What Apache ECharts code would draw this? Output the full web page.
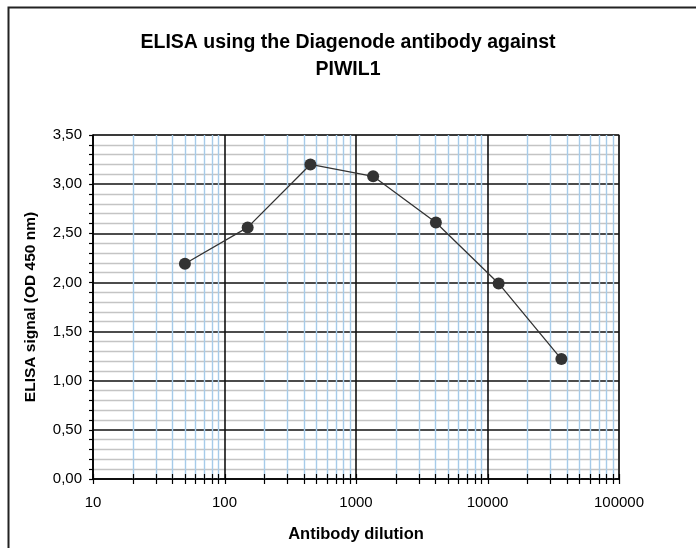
<!DOCTYPE html>
<html>
<head>
<meta charset="utf-8">
<style>
  html, body { margin: 0; padding: 0; background: #fff; }
  #chart { width: 696px; height: 548px; }
</style>
<script src="https://cdn.jsdelivr.net/npm/echarts@6/dist/echarts.min.js"></script>
</head>
<body>
<div id="chart"></div>
<script>
// antibody dilution (1:x) and ELISA signal OD 450 nm
const dilutions = [50, 150, 450, 1350, 4050, 12150, 36450];
const signal = [2.19, 2.56, 3.20, 3.08, 2.61, 1.99, 1.22];

// log axis tick marks
const xMajorTicks = [10, 100, 1000, 10000, 100000];
const xMinorTicks = [
  20, 30, 40, 50, 60, 70, 80, 90,
  200, 300, 400, 500, 600, 700, 800, 900,
  2000, 3000, 4000, 5000, 6000, 7000, 8000, 9000,
  20000, 30000, 40000, 50000, 60000, 70000, 80000, 90000
];
const yTicks = [0, 0.5, 1, 1.5, 2, 2.5, 3, 3.5];

const font = 'Liberation Sans, Arial, sans-serif';
const yMin = yTicks[0];
const yMax = yTicks[yTicks.length - 1];

// vertical line at a given x value, from the axis scales
function vLine(color, width, extendUp, extendDown, full) {
  return function(params, api) {
    const v = api.value(0);
    const top = api.coord([v, yMax]);
    const bottom = api.coord([v, yMin]);
    const x = Math.round(top[0]) + 0.5;
    return {
      type: 'line',
      shape: {
        x1: x, y1: full ? top[1] : bottom[1] - extendUp,
        x2: x, y2: bottom[1] + extendDown
      },
      style: { stroke: color, lineWidth: width }
    };
  };
}

let myChart = echarts.init(document.getElementById('chart'));
let option = {
  backgroundColor: '#fff',
  animation: false,
  title: {
    text: 'ELISA using the Diagenode antibody against\nPIWIL1',
    left: 'center',
    top: 24,
    textStyle: {
      fontFamily: font,
      fontSize: 19.5,
      fontWeight: 'bold',
      color: '#000',
      lineHeight: 27
    }
  },
  // outer frame of the picture
  graphic: [{
    type: 'rect',
    left: 6,
    top: 5,
    shape: { width: 720, height: 580 },
    style: { fill: 'none', stroke: '#222', lineWidth: 2 },
    silent: true
  }],
  grid: {
    left: 93,
    right: 77,
    top: 135,
    bottom: 67,
    show: true,
    borderColor: '#a0a0a0',
    borderWidth: 1.5,
    backgroundColor: '#fff'
  },
  xAxis: {
    type: 'log',
    logBase: 10,
    min: xMajorTicks[0],
    max: xMajorTicks[xMajorTicks.length - 1],
    interval: 1,
    name: 'Antibody dilution',
    nameLocation: 'middle',
    nameGap: 47,
    nameTextStyle: { fontFamily: font, fontSize: 16.5, fontWeight: 'bold', color: '#000' },
    axisLine: { lineStyle: { color: '#000', width: 1.6 } },
    axisTick: { show: false },
    axisLabel: {
      margin: 16,
      fontFamily: font,
      fontSize: 15,
      color: '#000',
      formatter: function(v) { return String(Math.round(v)); }
    },
    splitLine: { show: true, lineStyle: { color: '#111', width: 1.6 } }
  },
  yAxis: {
    type: 'value',
    min: yMin,
    max: yMax,
    interval: 0.5,
    name: 'ELISA signal (OD 450 nm)',
    nameLocation: 'middle',
    nameGap: 54,
    nameTextStyle: { fontFamily: font, fontSize: 15.5, fontWeight: 'bold', color: '#000' },
    axisLine: { show: true, lineStyle: { color: '#000', width: 1.6 } },
    axisTick: { show: true, length: 4, lineStyle: { color: '#000', width: 1.2 } },
    minorTick: { show: true, splitNumber: 5, length: 4, lineStyle: { color: '#000', width: 1.2 } },
    axisLabel: {
      margin: 11,
      fontFamily: font,
      fontSize: 15,
      color: '#000',
      formatter: function(v) { return v.toFixed(2).replace('.', ','); }
    },
    splitLine: { show: true, lineStyle: { color: '#111', width: 1.6 } },
    minorSplitLine: { show: true, lineStyle: { color: '#c4c4c4', width: 1.3 } }
  },
  series: [
    {
      // light blue minor vertical grid
      name: 'minor grid',
      type: 'custom',
      silent: true,
      z: 1,
      encode: { x: 0, y: 1 },
      data: xMinorTicks.map(function(v) { return [v, 0]; }),
      renderItem: vLine('#a6cbe9', 1.4, 0, 0, true)
    },
    {
      // crossing tick marks on the x axis
      name: 'x ticks',
      type: 'custom',
      silent: true,
      clip: false,
      z: 3,
      encode: { x: 0, y: 1 },
      data: xMajorTicks.concat(xMinorTicks).map(function(v) { return [v, 0]; }),
      renderItem: vLine('#000', 1.2, 5, 5, false)
    },
    {
      name: 'ELISA',
      type: 'line',
      data: dilutions.map(function(d, i) { return [d, signal[i]]; }),
      symbol: 'circle',
      symbolSize: 12,
      lineStyle: { color: '#333', width: 1.3 },
      itemStyle: { color: '#333' },
      z: 5
    }
  ]
};
myChart.setOption(option);
window.addEventListener('resize', function() {
  myChart.resize();
});
</script>
</body>
</html>
